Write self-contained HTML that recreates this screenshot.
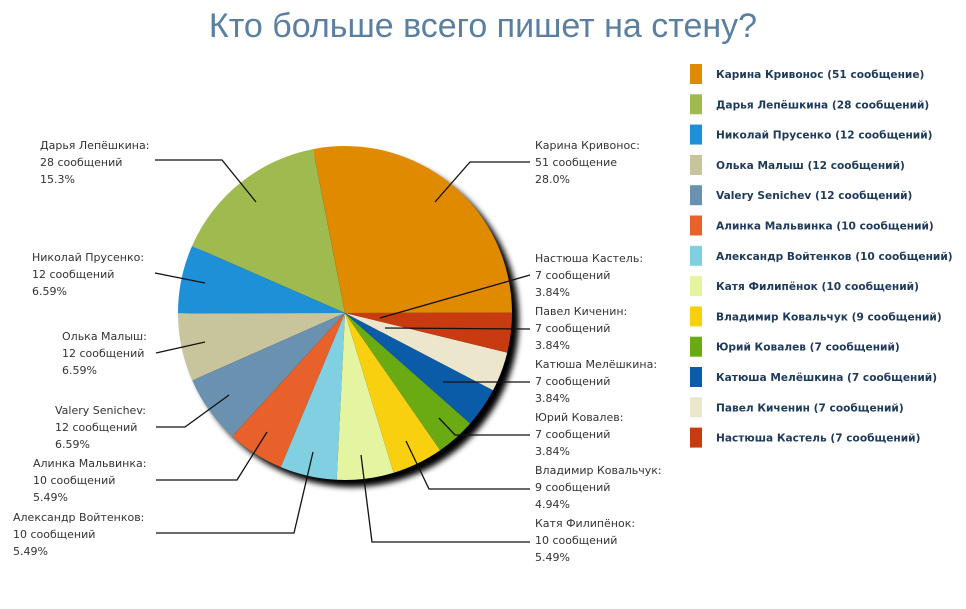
<!DOCTYPE html>
<html><head><meta charset="utf-8"><style>
body{margin:0;background:#fff;width:966px;height:604px;overflow:hidden;}
svg text{font-family:"DejaVu Sans","Liberation Sans",sans-serif;}
</style></head><body>
<svg id="s" width="966" height="604" xmlns="http://www.w3.org/2000/svg">
<defs><filter id="sh" x="-20%" y="-20%" width="150%" height="150%"><feGaussianBlur stdDeviation="3"/></filter></defs>
<text x="483" y="37" text-anchor="middle" font-size="34" fill="#5a7fa0" style="font-family:'Liberation Sans',sans-serif">Кто больше всего пишет на стену?</text>
<circle cx="352" cy="320" r="167" fill="#000" filter="url(#sh)"/>
<g id="pie"></g>
<g stroke="#111" stroke-width="1.3" fill="none">
<polyline points="155,160 222,160 256,202"/>
<polyline points="155,273 205,283"/>
<polyline points="156,353 205,342"/>
<polyline points="156,427 185,427 229,395"/>
<polyline points="156,480 237,480 267,432"/>
<polyline points="156,533 294,533 313,452"/>
<polyline points="530,162 470,162 435,202"/>
<polyline points="530,275 380,318"/>
<polyline points="530,329 385,328"/>
<polyline points="530,382 443,382"/>
<polyline points="530,435 455,435 439,418"/>
<polyline points="530,489 429,489 406,441"/>
<polyline points="530,542 372,542 361,455"/>
</g>
<g id="lab" font-size="11" fill="#333"></g>
<g id="leg"></g>
</svg>
<script>
var N='http://www.w3.org/2000/svg';
function el(t,a,p,txt){var e=document.createElementNS(N,t);for(var k in a)e.setAttribute(k,a[k]);if(txt)e.textContent=txt;p.appendChild(e);return e;}
var d=[["Карина Кривонос",51,"#e08a00","сообщение","28.0%"],["Дарья Лепёшкина",28,"#9fba4e",0,"15.3%"],["Николай Прусенко",12,"#1e90d8",0,"6.59%"],["Олька Малыш",12,"#c8c49c",0,"6.59%"],["Valery Senichev",12,"#6a92b0",0,"6.59%"],["Алинка Мальвинка",10,"#e8602a",0,"5.49%"],["Александр Войтенков",10,"#80d0e2",0,"5.49%"],["Катя Филипёнок",10,"#e4f4a0",0,"5.49%"],["Владимир Ковальчук",9,"#f8d010",0,"4.94%"],["Юрий Ковалев",7,"#6aaa12",0,"3.84%"],["Катюша Мелёшкина",7,"#0a5ca8",0,"3.84%"],["Павел Киченин",7,"#ece6cc",0,"3.84%"],["Настюша Кастель",7,"#c83a10",0,"3.84%"]];
var cx=345,cy=313,r=167,pie=document.getElementById('pie');
var order=[1,2,3,4,5,6,7,8,9,10,11,12,0];var a=-11;
function pt(deg){var t=deg*Math.PI/180;return [cx+r*Math.sin(t),cy-r*Math.cos(t)];}
order.forEach(function(i){var sw=d[i][1]/182*360;var a2=a-sw;var p1=pt(a),p2=pt(a2);
el('path',{d:'M'+cx+','+cy+'L'+p1[0]+','+p1[1]+'A'+r+','+r+' 0 '+(sw>180?1:0)+' 0 '+p2[0]+','+p2[1]+'Z',fill:d[i][2]},pie);a=a2;});
var leg=document.getElementById('leg');
d.forEach(function(x,i){var y=74+i*30.3;el('rect',{x:690,y:y-10,width:12,height:20,fill:x[2]},leg);
el('text',{x:716,y:y+4,'font-size':10.6,'font-weight':'bold',fill:'#1e3a5a'},leg,x[0]+' ('+x[1]+' '+(x[3]||'сообщений')+')');});
var L=[[1,40,145],[2,32,257],[3,62,336],[4,55,410],[5,33,463],[6,13,517],[0,535,145],[12,535,258],[11,535,311],[10,535,364],[9,535,417],[8,535,470],[7,535,523]];
var lab=document.getElementById('lab');
L.forEach(function(l){var x=d[l[0]];
[x[0]+':',x[1]+' '+(x[3]||'сообщений'),x[4]].forEach(function(s,j){el('text',{x:l[1],y:l[2]+4+j*17},lab,s);});});
</script>
</body></html>
